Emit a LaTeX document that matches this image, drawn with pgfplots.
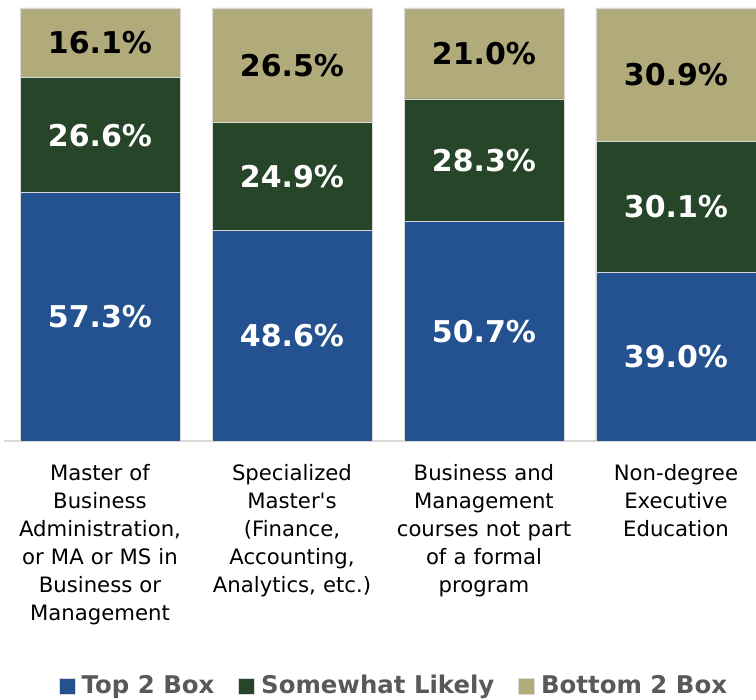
\documentclass[border=0pt]{standalone}
\usepackage{pgfplots}
\usepackage{pgfplotstable}
\pgfplotsset{compat=1.18}
\usepackage{fontspec}
\setmainfont{DejaVu Sans}

\definecolor{topbox}{RGB}{36,82,145}
\definecolor{midbox}{RGB}{38,69,41}
\definecolor{botbox}{RGB}{177,170,122}
\definecolor{legtext}{RGB}{89,89,89}

\pgfplotstableread{
x top mid bot
0 57.3 26.6 16.1
1 48.6 24.9 26.5
2 50.7 28.3 21.0
3 39.0 30.1 30.9
}\likely

\begin{document}
\begin{tikzpicture}
\begin{axis}[
  scale only axis, width=376pt, height=216.5pt,
  ybar stacked, bar width=0.833,
  xmin=-0.5, xmax=3.417, ymin=0, ymax=100,
  axis x line*=bottom, axis y line=none,
  x axis line style={draw=black!15, line width=1pt, -},
  xtick=data, major tick length=0pt,
  xticklabels={
    {Master of\\Business\\Administration,\\or MA or MS in\\Business or\\Management},
    {Specialized\\Master\textquotesingle s\\(Finance,\\Accounting,\\Analytics, etc.)},
    {Business and\\Management\\courses not part\\of a formal\\program},
    {Non-degree\\Executive\\Education}},
  xticklabel style={align=center, text width=100pt, anchor=north,
    font=\fontsize{10.6}{14}\selectfont, yshift=-8pt},
  /pgf/number format/assume math mode=true,
  nodes near coords={\pgfmathprintnumber[fixed,fixed zerofill,precision=1]{\pgfplotspointmeta}\%},
  point meta=explicit,
  every node near coord/.append style={anchor=center, font=\bfseries\fontsize{15}{18}\selectfont},
  legend style={at={(0.5186,-0.566)}, anchor=center, draw=none, fill=none,
    legend columns=-1, font=\bfseries\fontsize{12.2}{15}\selectfont, text=legtext,
    /tikz/every even column/.append style={column sep=11pt},
    nodes={inner sep=1pt}},
  legend image code/.code={\fill[#1] (0pt,-4pt) rectangle (8pt,4pt); \path (10pt,0pt);},
  clip=false,
]
\addplot[fill=topbox, draw=white!85!black, line width=0.4pt,
  every node near coord/.append style={text=white}]
  table[x=x, y=top, meta=top] {\likely};
\addlegendentry{Top 2 Box}
\addplot[fill=midbox, draw=white!85!black, line width=0.4pt,
  every node near coord/.append style={text=white}]
  table[x=x, y=mid, meta=mid] {\likely};
\addlegendentry{Somewhat Likely}
\addplot[fill=botbox, draw=white!85!black, line width=0.4pt,
  every node near coord/.append style={text=black}]
  table[x=x, y=bot, meta=bot] {\likely};
\addlegendentry{Bottom 2 Box}
\coordinate (ll) at (rel axis cs:0,0);
\coordinate (ur) at (rel axis cs:1,1);
\end{axis}
\pgfresetboundingbox
\path[use as bounding box] ([shift={(-2pt,-129.5pt)}]ll) rectangle ([shift={(0pt,4pt)}]ur);
\end{tikzpicture}
\end{document}
